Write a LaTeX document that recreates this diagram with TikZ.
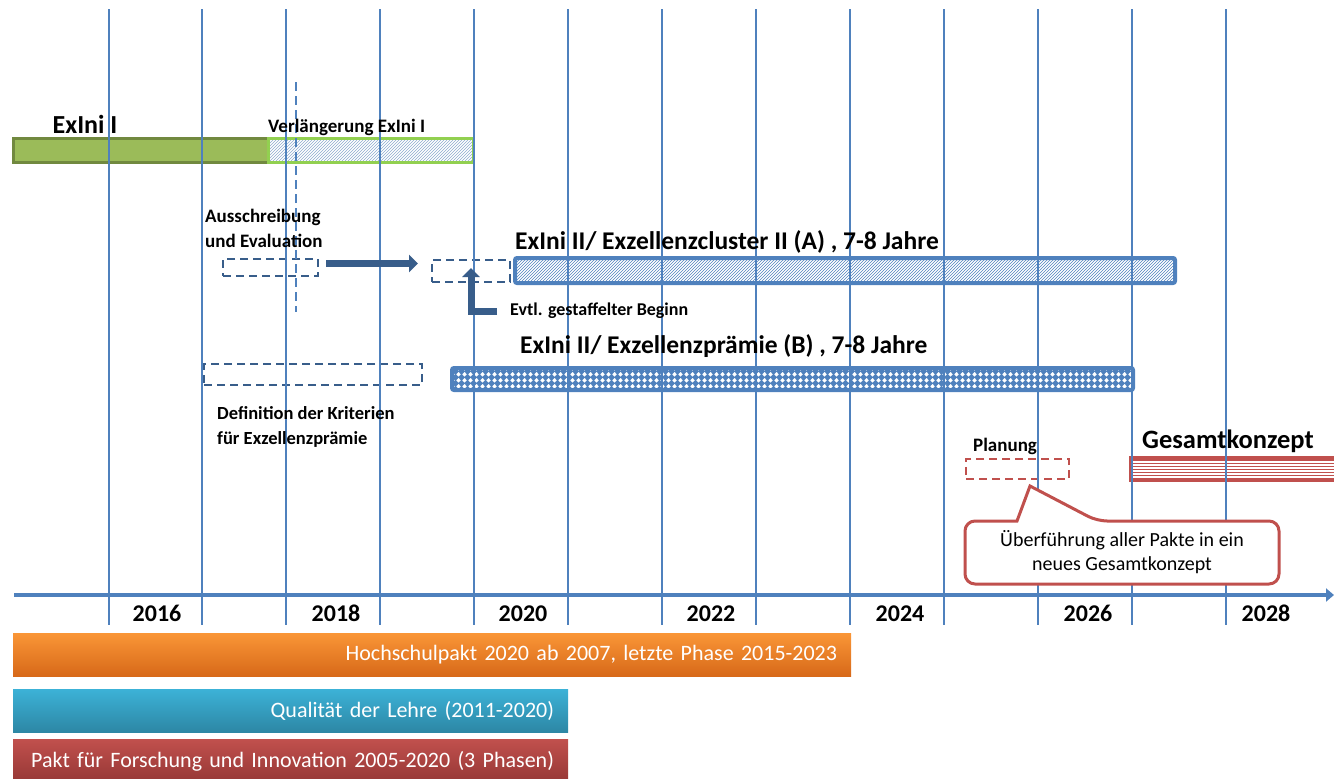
\documentclass[tikz,border=0pt]{standalone}
\usepackage{fontspec}
\setmainfont{Carlito}
\usetikzlibrary{positioning, patterns, arrows.meta, calc}

\definecolor{gridblue}{RGB}{79,129,189}
\definecolor{darkblue}{RGB}{56,93,138}
\definecolor{exgreen}{RGB}{155,187,89}
\definecolor{exgreendark}{RGB}{113,137,63}
\definecolor{lightgreen}{RGB}{146,208,80}
\definecolor{hatchblue}{RGB}{141,169,206}
\definecolor{pactred}{RGB}{192,80,77}
\definecolor{pactreddark}{RGB}{149,55,53}
\definecolor{hspktop}{RGB}{250,150,55}
\definecolor{hspkbot}{RGB}{215,105,25}
\definecolor{qpltop}{RGB}{60,178,215}
\definecolor{qplbot}{RGB}{45,135,165}

\pgfdeclarepatternformonly{whitediamonds}{\pgfpointorigin}{\pgfpoint{6pt}{6pt}}{\pgfpoint{6pt}{6pt}}{
  \pgfpathmoveto{\pgfpoint{3pt}{0.4pt}}
  \pgfpathlineto{\pgfpoint{5.6pt}{3pt}}
  \pgfpathlineto{\pgfpoint{3pt}{5.6pt}}
  \pgfpathlineto{\pgfpoint{0.4pt}{3pt}}
  \pgfpathclose
  \pgfusepath{fill}}

\begin{document}
\begin{tikzpicture}[x=1pt, y=-1pt,
  bar/.style={inner sep=0pt, outer sep=0pt},
  dashbox/.style={draw=darkblue, line width=2.5pt, dash pattern=on 8pt off 5pt, inner sep=0pt, outer sep=0pt},
  bigarrow/.style={darkblue, line width=7pt, -{Triangle[length=9pt,width=17pt]}},
  biglabel/.style={font=\fontsize{25.5}{28}\selectfont\bfseries, inner sep=0pt},
  smalllabel/.style={font=\fontsize{19}{25}\selectfont\bfseries, inner sep=0pt, align=left},
  yearlabel/.style={font=\fontsize{24}{28}\selectfont\bfseries, inner sep=0pt, anchor=base},
  paktbar/.style={inner sep=0pt, inner xsep=14pt, outer sep=0pt, text=white, align=right, font=\fontsize{22}{25}\selectfont, minimum height=43pt}]

\useasboundingbox (0,0) rectangle (1334,779);
\clip (0,0) rectangle (1334,779);

\node[bar, fill=exgreen, draw=exgreendark, line width=3pt, minimum width=255pt, minimum height=24pt] (ex1) at (140.5,150) {};
\node[bar, draw=lightgreen, line width=3pt, pattern=north east lines, pattern color=hatchblue, minimum width=205pt, minimum height=24pt] (verl) at (370.5,150) {};
\node[bar, draw=gridblue, line width=4pt, rounded corners=2pt, pattern=north east lines, pattern color=gridblue, minimum width=660pt, minimum height=25pt] (barA) at (845,270.5) {};
\node[bar, draw=gridblue, line width=4pt, rounded corners=2pt, preaction={fill=gridblue}, pattern=whitediamonds, pattern color=white, minimum width=681pt, minimum height=22pt] (barB) at (792.5,379) {};
\node[bar, draw=pactred, line width=4pt, pattern=horizontal lines, pattern color=pactred, minimum width=214pt, minimum height=22pt] (gesamt) at (1238,469) {};

\node[dashbox, minimum width=95pt, minimum height=17pt] (aus) at (270.5,267.5) {};
\node[dashbox, minimum width=78pt, minimum height=22pt] (beg) at (471,271) {};
\node[dashbox, minimum width=218pt, minimum height=21pt] (def) at (313,374.5) {};
\node[dashbox, draw=pactred, minimum width=103pt, minimum height=20pt] (planbox) at (1017.5,469) {};

\foreach \x in {109,202,286,380,474,568,662,756,850,944,1038,1132,1226}
  \draw[gridblue, line width=2.5pt] (\x,9) -- (\x,625);
\draw[gridblue, line width=2pt, dash pattern=on 9pt off 5pt] (296,82) -- (296,312);
\draw[gridblue, line width=4pt, -{Triangle[length=8pt,width=13pt]}] (14,595) -- (1334,595);

\foreach \yr/\x in {2016/157,2018/336,2020/523,2022/711,2024/900,2026/1088,2028/1266}
  \node[yearlabel] (y\yr) at (\x,621) {\yr};

\node[biglabel, font=\fontsize{26}{30}\selectfont\bfseries] (exlab) at (85,124) {ExIni I};
\node[biglabel, font=\fontsize{19}{23}\selectfont\bfseries, anchor=west] (verllab) at (268,127) {Verlängerung ExIni I};
\node[smalllabel, anchor=west] (auslab) at (205,228) {Ausschreibung\\und Evaluation};
\node[biglabel, anchor=west] (alab) at (515,242) {ExIni II/ Exzellenzcluster II (A) , 7-8 Jahre};
\node[biglabel, anchor=west] (blab) at (520,346) {ExIni II/ Exzellenzprämie (B) , 7-8 Jahre};
\node[smalllabel, font=\fontsize{18}{22}\selectfont\bfseries, anchor=west] (evtl) at (510,311) {Evtl. gestaffelter Beginn};
\node[smalllabel, font=\fontsize{18.5}{25}\selectfont\bfseries, anchor=west] (deflab) at (217,426.5) {Definition der Kriterien\\für Exzellenzprämie};
\node[smalllabel, anchor=west] (planlab) at (973,446) {Planung};
\node[biglabel, font=\fontsize{26.5}{30}\selectfont\bfseries, anchor=west] (glab) at (1142,441) {Gesamtkonzept};

\coordinate (begtip) at ([yshift=14pt]beg.south);
\draw[bigarrow, shorten <=8pt, shorten >=14pt] ([yshift=4pt]aus.east) -- ([yshift=4pt]aus.east -| beg.west);
\draw[bigarrow, shorten <=13pt] (evtl.west) -| (begtip);

\node[minimum width=314pt, minimum height=63pt, inner sep=0pt, outer sep=0pt] (ueber) at (1122,552.5) {};
\coordinate (tip) at ([xshift=12.5pt, yshift=-7pt]planbox.south);
\draw[pactred, line width=3pt, fill=white, rounded corners=10pt]
  ($(ueber.north west)+(52,0)$) -- (ueber.north west) -- (ueber.south west) -- (ueber.south east)
  -- (ueber.north east) -- ($(ueber.north west)+(132,0)$) [sharp corners] -- (tip) -- cycle;
\node[align=center, font=\fontsize{20}{24}\selectfont] (uebertext) at (ueber) {Überführung aller Pakte in ein\\neues Gesamtkonzept};

\node[paktbar, top color=hspktop, bottom color=hspkbot, minimum width=838pt, text width=810pt] (hsp) at (432,654.5) {Hochschulpakt 2020 ab 2007, letzte Phase 2015-2023};
\node[paktbar, top color=qpltop, bottom color=qplbot, minimum width=555pt, text width=527pt] (qpl) at (290.5,710.5) {Qualität der Lehre (2011-2020)};
\node[paktbar, top color=pactred, bottom color=pactreddark, minimum width=555pt, text width=527pt] (pfi) at (290.5,761) {Pakt für Forschung und Innovation 2005-2020 (3 Phasen)};
\end{tikzpicture}
\end{document}
